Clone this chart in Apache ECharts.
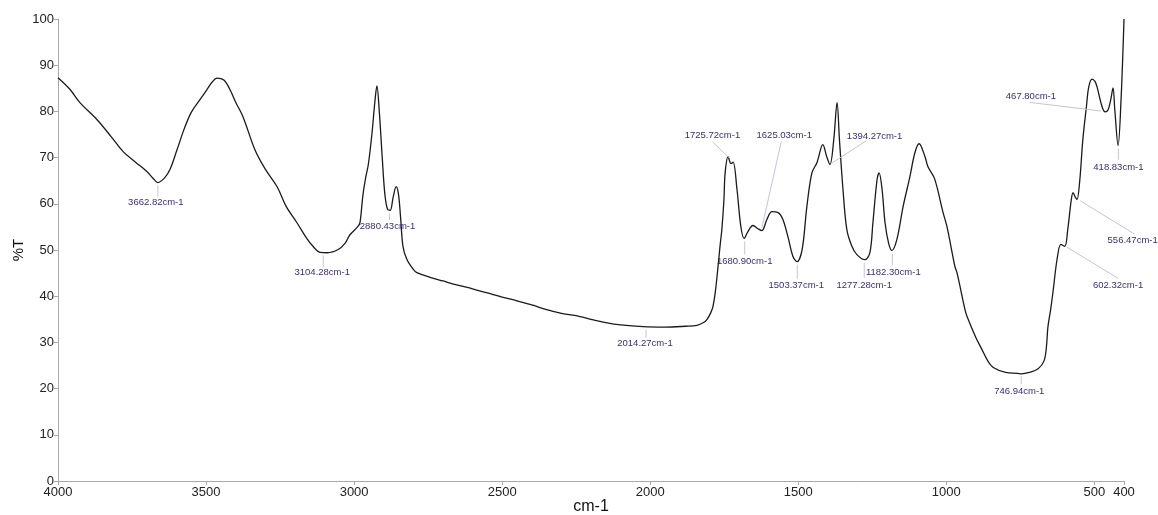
<!DOCTYPE html>
<html>
<head>
<meta charset="utf-8">
<script src="https://cdn.jsdelivr.net/npm/echarts@6/dist/echarts.min.js"></script>
<style>html,body{margin:0;padding:0;background:#fff}#c{width:1158px;height:515px}</style>
</head>
<body>
<div id="c"></div>
<script>
// Spectrum trace (wavenumber cm-1, %T)
const wavenumbers = [4000,3960,3926,3868,3820,3780,3740,3700,3680,3663,3640,3622,3598,3575,3550,3520,3497,3480,3463,3440,3419,3400,3375,3335,3300,3260,3230,3193,3160,3139,3115,3090,3054,3030,3014,2987,2980,2970,2960,2952,2940,2930,2923,2915,2905,2896,2886,2878,2868,2858,2850,2843,2835,2822,2800,2788,2744,2700,2650,2600,2550,2500,2450,2400,2350,2300,2237,2200,2150,2100,2024,1950,1880,1842,1820,1808,1795,1788,1780,1771,1764,1758,1751,1747,1737,1727,1720,1707,1694,1683,1670,1653,1636,1623,1606,1589,1568,1552,1535,1518,1504,1487,1471,1454,1437,1417,1404,1393,1380,1369,1361,1349,1336,1319,1302,1275,1258,1248,1234,1227,1217,1207,1195,1184,1167,1146,1123,1106,1092,1072,1062,1040,1011,998,971,964,937,930,900,880,860,840,800,760,747,720,690,670,662,657,648,640,626,613,600,590,578,572,565,559,550,539,527,519,508,498,491,474,464,454,445,437,431,420,410,400];
const transmittance = [87.3,84.8,81.9,78.2,74.5,71.3,69.1,67.0,65.6,64.6,65.6,67.4,71.7,76.0,79.8,82.6,84.7,86.3,87.2,86.8,84.7,82.0,78.8,71.7,67.5,63.7,59.5,55.9,52.5,50.8,49.5,49.4,50.1,51.5,53.3,55.1,56.0,62.0,66.0,68.5,75.0,82.0,85.5,80.0,70.0,62.0,58.7,58.6,61.5,63.7,62.0,57.0,50.8,48.0,45.8,45.1,44.1,43.3,42.4,41.6,40.7,39.8,39.0,38.1,37.1,36.3,35.6,35.0,34.3,33.8,33.4,33.3,33.5,33.7,34.3,35.0,36.5,37.8,41.0,46.4,51.0,54.5,61.0,66.7,70.2,68.7,69.0,63.1,55.1,52.5,54.0,55.3,54.6,54.2,56.6,58.3,58.1,56.6,52.9,48.6,47.5,50.1,59.4,66.7,68.9,72.8,70.2,68.5,74.0,81.9,73.9,63.1,54.4,50.8,49.0,47.9,49.5,55.9,65.2,66.7,63.1,55.9,51.5,49.9,52.3,59.4,65.9,71.1,73.0,70.2,68.0,65.5,58.1,55.1,46.4,45.1,37.1,35.6,31.0,28.5,26.0,24.5,23.5,23.3,23.2,23.5,24.3,26.0,29.0,33.3,37.0,40.8,48.0,51.2,50.8,54.4,60.9,62.4,61.5,60.9,64.6,73.9,81.0,85.3,87.0,86.5,85.3,81.0,79.9,80.3,82.5,85.1,80.3,72.6,82.5,100];

// Peak annotations
const peakWn = [3662.82,3104.28,2880.43,2014.27,1725.72,1625.03,1394.27,1680.90,1503.37,1277.28,1182.30,746.94,467.80,418.83,556.47,602.32];
const peakT  = [64.6,49.5,58.6,33.4,69.5,54.2,68.5,52.5,47.5,47.9,49.9,23.3,80.0,72.6,61.0,51.0];
const peakLabels = peakWn.map(v => v.toFixed(2) + 'cm-1');

// Axis tick labels
const xTicks = [4000,3500,3000,2500,2000,1500,1000,500,400];
const yTicks = [0,10,20,30,40,50,60,70,80,90,100];

// Layout of annotation labels (pixel offsets from the peak point): [textDx, textDy, lineEndDx, lineEndDy]
const labelLayout = [
  [-2,20,0,14],[-1,20,0,15],[-2,16,0,10],[-1,17,0,11],
  [-19,-25,-19,-18],[23,-95,20,-89],[45,-28,37,-24],[0,23,0,16],
  [-1,24,0,17],[0,26,0,18],[1,22,0,15],[-2,18,0,11],
  [-73,-15,-74,-9],[0,22,0,14],[55,41,57,35],[54,40,54,33]
];

const spectrum = wavenumbers.map((w,i) => [w, transmittance[i]]);
const annData = peakWn.map((w,i) => [w, peakT[i], i]);

const chart = echarts.init(document.getElementById('c'), null, {renderer:'canvas'});
chart.setOption({
  animation: false,
  backgroundColor: '#ffffff',
  grid: {left: 58, right: 34, top: 19, bottom: 34, containLabel: false, outerBoundsMode: 'none'},
  xAxis: {
    type: 'value', inverse: true, min: 400, max: 4000,
    name: 'cm-1', nameLocation: 'middle', nameGap: 18, nameMoveOverlap: false,
    nameTextStyle: {fontFamily: 'Liberation Sans, Arial', fontSize: 16, color: '#111', verticalAlign: 'top'},
    axisLine: {lineStyle: {color: '#a8a8a8', width: 1}},
    axisTick: {show: true, length: 4, lineStyle: {color: '#a8a8a8'}, customValues: xTicks},
    axisLabel: {fontFamily: 'Liberation Sans, Arial', fontSize: 13, color: '#222', margin: 5,
      customValues: xTicks, formatter: v => String(v)},
    splitLine: {show: false}
  },
  yAxis: {
    type: 'value', min: 0, max: 100, interval: 10,
    name: '%T', nameLocation: 'middle', nameGap: 32, nameMoveOverlap: false,
    nameTextStyle: {fontFamily: 'Liberation Sans, Arial', fontSize: 15, color: '#111'},
    axisLine: {show: true, lineStyle: {color: '#a8a8a8', width: 1}},
    axisTick: {show: true, length: 4, lineStyle: {color: '#a8a8a8'}},
    axisLabel: {fontFamily: 'Liberation Sans, Arial', fontSize: 13, color: '#222', margin: 4,
      formatter: v => yTicks.indexOf(v) >= 0 ? String(v) : ''},
    splitLine: {show: false}
  },
  series: [
    {
      type: 'line', data: spectrum, smooth: 0.35, symbol: 'none',
      lineStyle: {color: '#1a1a1a', width: 1.3}, z: 3
    },
    {
      type: 'custom', data: annData, z: 4, clip: false,
      renderItem: function (params, api) {
        const p = api.coord([api.value(0), api.value(1)]);
        const L = labelLayout[api.value(2)];
        const ex = p[0] + L[2], ey = p[1] + L[3];
        const dx = L[2], dy = L[3];
        const len = Math.sqrt(dx*dx + dy*dy) || 1;
        const sx = p[0] + dx/len*3, sy = p[1] + dy/len*3;
        return {
          type: 'group',
          children: [
            {type: 'line', shape: {x1: sx, y1: sy, x2: ex, y2: ey},
             style: {stroke: '#c4c4dc', lineWidth: 1}},
            {type: 'text', x: p[0] + L[0], y: p[1] + L[1],
             style: {text: peakLabels[api.value(2)], fill: '#3a2d7c', font: '9.5px "Liberation Sans", Arial',
                     align: 'center', verticalAlign: 'middle'}}
          ]
        };
      }
    }
  ]
});
</script>
</body>
</html>
